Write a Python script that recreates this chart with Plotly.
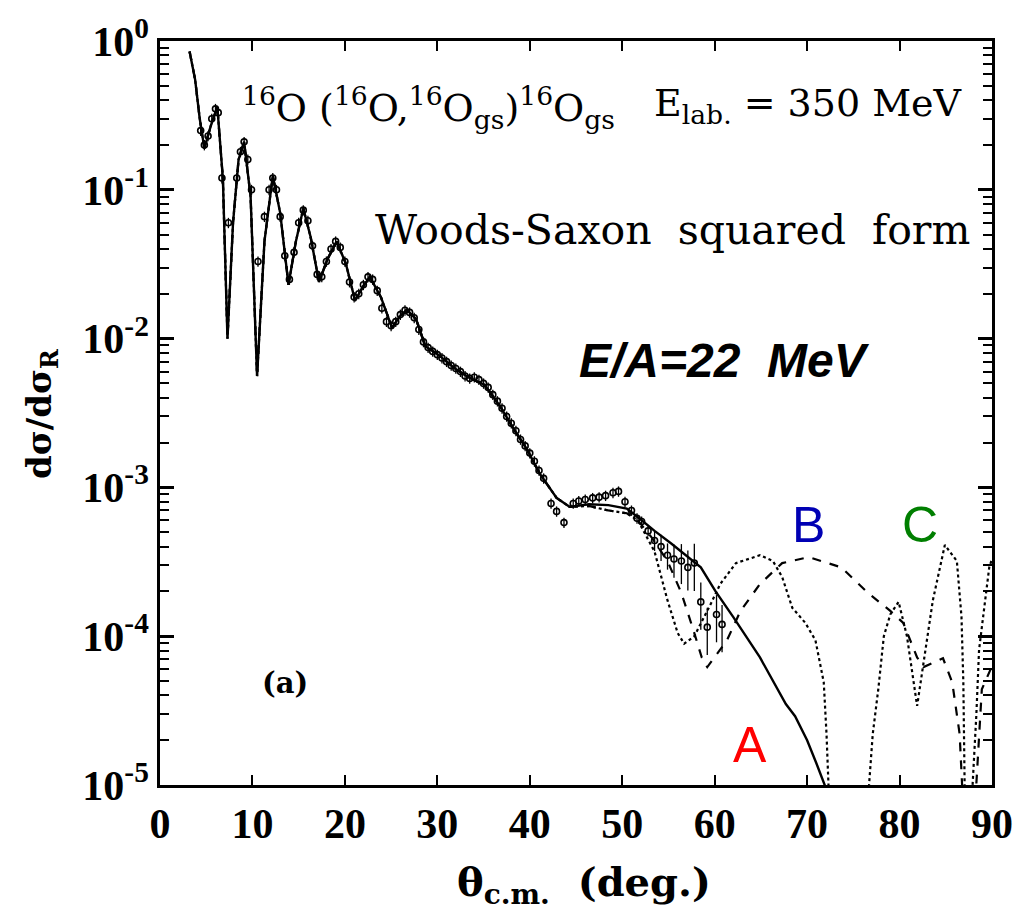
import plotly.graph_objects as go

# ---------------- data ----------------
# forward-angle part shared by the three calculations
theta_fwd = [3.2, 3.8, 4.3, 4.8, 5.5, 6.2, 6.8, 7.3, 7.9, 8.5, 9.1, 9.8, 10.5, 11.3,
             12.2, 13.0, 13.9, 14.7, 15.5, 16.3, 17.2, 18.1, 19.1, 20.1, 21.1, 21.9,
             22.7, 23.9, 25.1, 25.9, 26.7, 27.7, 28.7, 30.1, 31.9, 33.6, 35.1, 36.8,
             38.3, 39.7, 41.1, 42.9, 44.3]
sig_fwd = [0.85, 0.55, 0.30, 0.19, 0.27, 0.36, 0.12, 0.010, 0.06, 0.16, 0.21, 0.09,
           0.0056, 0.045, 0.124, 0.07, 0.023, 0.045, 0.075, 0.048, 0.024, 0.034, 0.045,
           0.032, 0.018, 0.022, 0.026, 0.019, 0.0118, 0.014, 0.0156, 0.0135, 0.0089,
           0.0078, 0.0063, 0.0054, 0.0049, 0.0035, 0.00245, 0.0018, 0.00123, 0.00085,
           0.00074]

# curve A (solid)
theta_A_tail = [46.4, 48.5, 50.5, 51.7, 53.5, 55.3, 58.5, 60.1, 62.0, 64.9, 67.7, 68.7,
                70.0, 71.0, 71.9, 72.5]
sig_A_tail = [7.7e-4, 7.6e-4, 7.2e-4, 6.3e-4, 5.1e-4, 4.2e-4, 2.9e-4, 2.0e-4, 1.35e-4,
              7.2e-5, 3.5e-5, 2.9e-5, 2.0e-5, 1.4e-5, 1.0e-5, 8e-6]

# curve B (dashed)
theta_B_tail = [46.4, 48.5, 50.5, 51.7, 53.2, 54.9, 56.4, 57.8, 58.6, 59.2, 60.6, 61.3,
                62.8, 64.9, 67.3, 70.2, 73.7, 76.6, 79.0, 80.4, 81.9, 82.6, 84.7, 85.7,
                86.5, 86.8, 87.0, 88.1, 88.3, 88.9, 90.0]
sig_B_tail = [7.5e-4, 7.0e-4, 6.7e-4, 6.0e-4, 4.6e-4, 3.2e-4, 1.95e-4, 1.05e-4, 7.2e-5,
              6.2e-5, 8.1e-5, 9.3e-5, 1.48e-4, 2.24e-4, 3.1e-4, 3.4e-4, 2.9e-4, 1.95e-4,
              1.48e-4, 1.23e-4, 7.2e-5, 6.2e-5, 7.1e-5, 4.9e-5, 2.2e-5, 1.0e-5, 5e-6,
              5e-6, 1.0e-5, 4.4e-5, 6.3e-5]

# curve C (dotted)
theta_C_tail = [46.4, 48.5, 50.5, 51.7, 53.5, 54.9, 56.0, 56.7, 57.8, 59.6, 60.6, 62.3,
                64.9, 66.3, 67.3, 68.4, 69.8, 70.9, 71.8, 72.1, 72.3, 72.5, 76.5, 76.7,
                77.1, 77.7, 78.3, 79.0, 79.9, 80.8, 81.9, 82.6, 83.6, 84.9, 86.2, 86.7,
                86.9, 87.1, 87.7, 87.9, 88.3, 88.6, 89.7, 90.0]
sig_C_tail = [7.5e-4, 7.0e-4, 6.7e-4, 6.0e-4, 3.7e-4, 1.74e-4, 1.05e-4, 8.9e-5, 1.0e-4,
              1.66e-4, 2.24e-4, 3.1e-4, 3.5e-4, 3.2e-4, 2.5e-4, 1.55e-4, 1.23e-4, 9.4e-5,
              4.9e-5, 2.2e-5, 1.0e-5, 5e-6, 5e-6, 1.0e-5, 2.2e-5, 4.4e-5, 1.0e-4, 1.4e-4,
              1.7e-4, 1.0e-4, 3.4e-5, 6.6e-5, 1.74e-4, 4.1e-4, 3.2e-4, 1.35e-4, 4.9e-5,
              5e-6, 5e-6, 1.0e-5, 2.9e-5, 8.1e-5, 2.9e-4, 3.3e-4]

# experimental points
theta_exp = [4.4, 4.8, 5.2, 5.6, 6.0, 6.3, 6.7, 7.4, 8.3, 8.7, 9.1, 9.5, 9.9, 10.6, 11.3,
             11.8, 12.2, 12.6, 13.0, 13.5, 14.0, 14.5, 15.0, 15.5, 16.0, 16.5, 17.0, 17.5,
             18.0, 18.5, 19.0, 19.5, 20.0, 20.5, 21.0, 21.5, 22.0, 22.5, 23.0, 23.5, 24.0,
             24.5, 25.0, 25.5, 26.0, 26.5, 27.0, 27.5, 28.0, 28.5, 29.0, 29.5, 30.0, 30.5,
             31.0, 31.5, 32.0, 32.5, 33.0, 33.5, 34.0, 34.5, 35.0, 35.5, 36.0, 36.5, 37.0,
             37.5, 38.0, 38.5, 39.0, 39.5, 40.0, 40.5, 41.0, 41.5, 42.3, 42.9, 43.7, 44.7,
             45.3, 46.0, 46.8, 47.5, 48.2, 49.0, 49.6, 50.3, 51.0, 51.6, 52.1, 52.8, 53.5,
             54.2, 54.9, 55.6, 56.4, 57.1, 57.8, 58.5, 59.2, 60.2, 60.8]
sig_exp = [0.25, 0.20, 0.23, 0.30, 0.35, 0.33, 0.12, 0.06, 0.12, 0.18, 0.21, 0.16, 0.10,
           0.033, 0.066, 0.10, 0.12, 0.10, 0.066, 0.036, 0.025, 0.038, 0.060, 0.073, 0.062,
           0.042, 0.027, 0.026, 0.033, 0.040, 0.045, 0.041, 0.033, 0.024, 0.019, 0.020,
           0.023, 0.026, 0.025, 0.021, 0.016, 0.013, 0.0122, 0.013, 0.0145, 0.0155, 0.0150,
           0.0138, 0.0115, 0.0095, 0.0087, 0.0082, 0.0078, 0.0074, 0.0070, 0.0066, 0.0063,
           0.0060, 0.0056, 0.0054, 0.0055, 0.0053, 0.0050, 0.0047, 0.0042, 0.0038, 0.0034,
           0.0030, 0.0027, 0.0024, 0.0021, 0.0019, 0.0017, 0.0015, 0.0013, 0.00115,
           0.00078, 0.00069, 0.00058, 0.00078, 0.00081, 0.00083, 0.00085, 0.00086, 0.00088,
           0.00092, 0.00094, 0.00080, 0.00070, 0.00062, 0.00059, 0.00051, 0.00044, 0.00040,
           0.00035, 0.00033, 0.00032, 0.00029, 0.00031, 0.00017, 0.000115, 0.00014, 0.00012]
err_frac = [0.08] * 92 + [0.15, 0.2, 0.2, 0.25, 0.3, 0.3, 0.35, 0.35, 0.35, 0.35, 0.35]

x_ticks = [0, 10, 20, 30, 40, 50, 60, 70, 80, 90]
y_tick_vals = [1, 1e-1, 1e-2, 1e-3, 1e-4, 1e-5]
y_tick_text = ["10<sup>0</sup>", "10<sup>-1</sup>", "10<sup>-2</sup>",
               "10<sup>-3</sup>", "10<sup>-4</sup>", "10<sup>-5</sup>"]
y_minor_mantissas = [2, 3, 4, 5, 6, 7, 8, 9]
y_minor_vals = [m * d for d in y_tick_vals[1:] for m in y_minor_mantissas]

# ---------------- figure ----------------
fig = go.Figure()

fig.add_trace(go.Scatter(
    x=theta_exp, y=sig_exp, mode="markers",
    marker=dict(symbol="circle-open", size=6, color="black", line=dict(width=1.6)),
    error_y=dict(type="data", array=[v * f for v, f in zip(sig_exp, err_frac)],
                 color="black", thickness=1.3, width=0),
    showlegend=False))

fig.add_trace(go.Scatter(x=theta_fwd + theta_C_tail, y=sig_fwd + sig_C_tail, mode="lines",
                         line=dict(color="black", width=2.2, dash="dot"), showlegend=False))
fig.add_trace(go.Scatter(x=theta_fwd + theta_B_tail, y=sig_fwd + sig_B_tail, mode="lines",
                         line=dict(color="black", width=2.2, dash="dash"), showlegend=False))
fig.add_trace(go.Scatter(x=theta_fwd + theta_A_tail, y=sig_fwd + sig_A_tail, mode="lines",
                         line=dict(color="black", width=2.4), showlegend=False))
# empty helper trace so that the minor-tick companion axis is rendered
fig.add_trace(go.Scatter(x=[None], y=[None], yaxis="y2", mode="lines",
                         showlegend=False, hoverinfo="skip"))

L, R, T, B = 160, 22, 36, 136
W, H = 1025, 921
pw, ph = W - L - R, H - T - B


def px(x, y):
    return (x - L) / pw, (H - B - y) / ph


serif = "DejaVu Serif"
annos = [
    dict(text="<sup>16</sup>O (<sup>16</sup>O,<sup>16</sup>O<sub>gs</sub>)<sup>16</sup>O<sub>gs</sub>",
         pos=(432, 103), font=dict(family=serif, size=38, color="black")),
    dict(text="E<sub>lab.</sub> = 350 MeV", pos=(817, 101),
         font=dict(family=serif, size=38, color="black")),
    dict(text="Woods-Saxon  squared  form", pos=(679, 226),
         font=dict(family=serif, size=41, color="black")),
    dict(text="<i><b>E/A=22  MeV</b></i>", pos=(732, 358),
         font=dict(family="Liberation Sans", size=48, color="black")),
    dict(text="<b>(a)</b>", pos=(287, 682), font=dict(family=serif, size=29, color="black")),
    dict(text="A", pos=(758, 745), font=dict(family="Liberation Sans", size=50, color="#ff0000")),
    dict(text="B", pos=(817, 523), font=dict(family="Liberation Sans", size=50, color="#0000b4")),
    dict(text="C", pos=(930, 523), font=dict(family="Liberation Sans", size=50, color="#007f00")),
    dict(text="<b>θ<sub>c.m.</sub>  (deg.)</b>", pos=(590, 885),
         font=dict(family=serif, size=40, color="black")),
]
for a in annos:
    xx, yy = px(*a["pos"])
    fig.add_annotation(x=xx, y=yy, xref="paper", yref="paper", text=a["text"],
                       showarrow=False, font=a["font"], xanchor="center", yanchor="middle")

xx, yy = px(40, 412)
fig.add_annotation(x=xx, y=yy, xref="paper", yref="paper", text="<b>dσ/dσ<sub>R</sub></b>",
                   showarrow=False, textangle=-90,
                   font=dict(family=serif, size=34, color="black"),
                   xanchor="center", yanchor="middle")

tickfont = dict(family="Liberation Serif", size=42, color="black", weight="bold")
fig.update_layout(
    width=W, height=H, margin=dict(l=L, r=R, t=T, b=B),
    paper_bgcolor="white", plot_bgcolor="white",
    xaxis=dict(range=[0, 90], tickvals=x_ticks, ticks="inside", ticklen=10, tickwidth=2,
               tickcolor="black", showline=True, linecolor="black", linewidth=2.5,
               mirror="ticks", showgrid=False, zeroline=False, tickfont=tickfont),
    yaxis=dict(type="log", range=[-5, 0], tickvals=y_tick_vals, ticktext=y_tick_text,
               ticks="inside", ticklen=14, tickwidth=2.5, tickcolor="black",
               showline=True, linecolor="black", linewidth=2.5, mirror="ticks",
               showgrid=False, zeroline=False, tickfont=tickfont),
    # companion axis carrying only the minor (2..9) log ticks
    yaxis2=dict(type="log", range=[-5, 0], overlaying="y", side="left",
                tickmode="array", tickvals=y_minor_vals, showticklabels=False,
                ticks="inside", ticklen=9, tickwidth=2, tickcolor="black",
                showline=True, linecolor="black", linewidth=2.5, mirror="ticks",
                showgrid=False, zeroline=False),
)

fig.write_html("out.html")
